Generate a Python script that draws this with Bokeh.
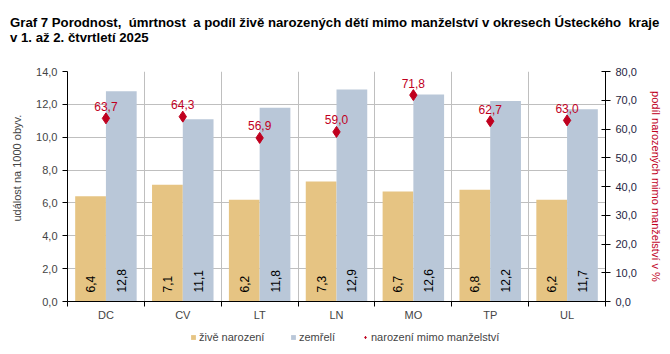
from bokeh.plotting import figure
from bokeh.layouts import column
from bokeh.models import (Range1d, LinearAxis, FixedTicker, Grid, Legend, LegendItem,
                          ColumnDataSource, Div)
from bokeh.embed import file_html
from bokeh.resources import INLINE
from bokeh.core.properties import value
import math

categories = ["DC", "CV", "LT", "LN", "MO", "TP", "UL"]
zive_narozeni = [6.4, 7.1, 6.2, 7.3, 6.7, 6.8, 6.2]
zemreli = [12.8, 11.1, 11.8, 12.9, 12.6, 12.2, 11.7]
mimo_manzelstvi = [63.7, 64.3, 56.9, 59.0, 71.8, 62.7, 63.0]
left_ticks = [0, 2, 4, 6, 8, 10, 12, 14]
left_tick_labels = ["0,0", "2,0", "4,0", "6,0", "8,0", "10,0", "12,0", "14,0"]
right_ticks = [0, 10, 20, 30, 40, 50, 60, 70, 80]
right_tick_labels = ["0,0", "10,0", "20,0", "30,0", "40,0", "50,0", "60,0", "70,0", "80,0"]
series_names = ["živě narození", "zemřelí", "narození mimo manželství"]
title_lines = ["Graf 7 Porodnost,&nbsp; úmrtnost&nbsp; a podíl živě narozených dětí mimo manželství v okresech Ústeckého&nbsp; kraje",
               "v 1. až 2. čtvrtletí 2025"]

FONT = "Liberation Sans"
ORANGE = "#E6C483"
BLUE = "#B9C7D8"
RED = "#C0001E"
GRID = "#BFBFBF"

fmt = lambda v: ("%.1f" % v).replace(".", ",")

n = len(categories)
centers = [i + 0.5 for i in range(n)]
src = ColumnDataSource(dict(
    xb=[c - 0.2 for c in centers], xd=[c + 0.2 for c in centers], xc=centers,
    born=zive_narozeni, died=zemreli, pct=mimo_manzelstvi,
    born_lbl=[fmt(v) for v in zive_narozeni], died_lbl=[fmt(v) for v in zemreli],
    pct_lbl=[fmt(v) for v in mimo_manzelstvi],
    lbl_y=[0.55] * n, pct_y=[v + 2.6 for v in mimo_manzelstvi],
))

# title block
title_div = Div(
    text=('<div style="font-family:\'Liberation Sans\',Arial,sans-serif;font-weight:bold;'
          'font-size:13.2px;line-height:15px;color:#000;white-space:nowrap;'
          'padding:15px 0 0 10px;margin:0;">' + "<br>".join(title_lines) + "</div>"),
    width=670, height=50, margin=0)

p = figure(frame_width=538, frame_height=230, output_backend="svg", toolbar_location=None,
           x_range=Range1d(0, n), y_range=Range1d(0, 14),
           min_border_left=67, min_border_right=65, min_border_top=21, min_border_bottom=24)
p.title.text = ""
p.outline_line_color = None
p.extra_y_ranges = {"pct": Range1d(0, 80)}

# grids
p.xgrid.visible = False
p.ygrid.ticker = FixedTicker(ticks=left_ticks)
p.ygrid.grid_line_color = GRID
vgrid = Grid(dimension=0, ticker=FixedTicker(ticks=list(range(1, n))), grid_line_color=GRID)
p.add_layout(vgrid)

# bars
p.vbar(x="xb", top="born", width=0.4, source=src, fill_color=ORANGE, line_color=None)
p.vbar(x="xd", top="died", width=0.4, source=src, fill_color=BLUE, line_color=None)
p.scatter(x="xc", y="pct", source=src, marker="diamond", size=11,
          fill_color=RED, line_color=RED, y_range_name="pct")

# bar labels
for xcol, tcol in (("xb", "born_lbl"), ("xd", "died_lbl")):
    p.text(x=xcol, y="lbl_y", text=tcol, source=src, angle=math.pi / 2,
           text_align="left", text_baseline="middle", text_font=value(FONT),
           text_font_size="12px", text_color="black")
p.text(x="xc", y="pct_y", text="pct_lbl", source=src, y_range_name="pct",
       text_align="center", text_baseline="bottom", text_font=value(FONT),
       text_font_size="12px", text_color=RED)

# axes
xa = p.xaxis[0]
xa.ticker = FixedTicker(ticks=centers, minor_ticks=list(range(0, n + 1)))
xa.major_label_overrides = {c: lab for c, lab in zip(centers, categories)}
xa.major_tick_out = 0
xa.major_tick_in = 0
xa.minor_tick_out = 5
xa.minor_tick_in = 0
xa.minor_tick_line_color = "black"
xa.axis_line_color = "black"
xa.major_label_text_font = FONT
xa.major_label_text_font_size = "11px"
xa.major_label_standoff = 2
xa.axis_label_standoff = 0

ya = p.yaxis[0]
ya.ticker = FixedTicker(ticks=left_ticks)
ya.major_label_overrides = {t: l for t, l in zip(left_ticks, left_tick_labels)}
ya.minor_tick_line_color = None
ya.major_tick_out = 5
ya.major_tick_in = 0
ya.major_label_text_font = FONT
ya.major_label_text_font_size = "11px"
ya.axis_label = "\u00a0" * 12 + "událost na 1000 obyv."
ya.axis_label_text_font = FONT
ya.axis_label_text_font_style = "normal"
ya.axis_label_text_font_size = "11px"
ya.axis_label_standoff = 10

ra = LinearAxis(y_range_name="pct", ticker=FixedTicker(ticks=right_ticks))
ra.major_label_overrides = {t: l for t, l in zip(right_ticks, right_tick_labels)}
ra.minor_tick_line_color = None
ra.major_tick_out = 5
ra.major_tick_in = 4
ra.major_label_text_font = FONT
ra.major_label_text_font_size = "11px"
ra.major_label_text_color = "#1F1F3F"
ra.axis_label = "podíl narozených mimo manželství v %"
ra.axis_label_text_font = FONT
ra.axis_label_text_font_style = "normal"
ra.axis_label_text_font_size = "11px"
ra.axis_label_text_color = RED
ra.axis_label_standoff = 10
p.add_layout(ra, "right")

# legend strip (separate small figure below the chart; its ranges keep the data out of view)
lg = figure(width=670, height=28, output_backend="svg", toolbar_location=None,
            min_border=0, x_range=Range1d(100, 101), y_range=Range1d(100, 101))
lg.axis.visible = False
lg.grid.visible = False
lg.outline_line_color = None
g1 = lg.vbar(x="xb", top="born", width=0.4, source=src, fill_color=ORANGE, line_color=None)
g2 = lg.vbar(x="xd", top="died", width=0.4, source=src, fill_color=BLUE, line_color=None)
g3 = lg.scatter(x="xc", y="pct", source=src, marker="diamond", size=7,
                fill_color=RED, line_color=RED)
for nm, g, lx in zip(series_names, (g1, g2, g3), (123, 223, 295)):
    lg.add_layout(Legend(items=[LegendItem(label=nm, renderers=[g])],
                         orientation="horizontal", location=(lx, 10),
                         label_text_font=FONT, label_text_font_size="11px", label_height=12,
                         glyph_width=6, glyph_height=6, spacing=0, padding=0, margin=0,
                         border_line_color=None, background_fill_alpha=0, label_standoff=3),
                  "center")

layout = column(title_div, p, lg, spacing=0)
open("out.html", "w").write(file_html(layout, INLINE))
